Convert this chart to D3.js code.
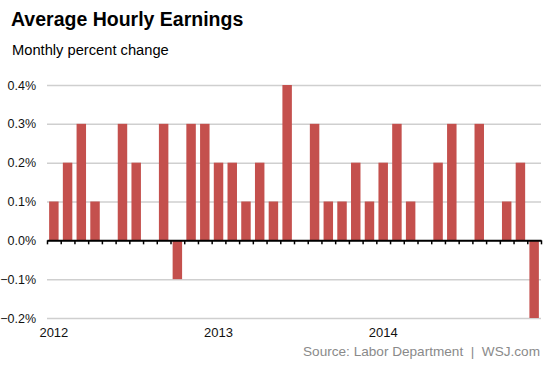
<!DOCTYPE html>
<html>
<head>
<meta charset="utf-8">
<script src="https://cdn.jsdelivr.net/npm/d3@7"></script>
<style>
  body { margin: 0; background: #fff; }
  text { font-family: "Liberation Sans", Arial, sans-serif; }
</style>
</head>
<body>
<div id="chart"></div>
<script>
// Data: monthly percent change, Jan 2012 - Dec 2014
var months = d3.range(36).map(function(i) { return i; });
var values2012 = [0.1, 0.2, 0.3, 0.1, 0, 0.3, 0.2, 0, 0.3, -0.1, 0.3, 0.3];
var values2013 = [0.2, 0.2, 0.1, 0.2, 0.1, 0.4, 0, 0.3, 0.1, 0.1, 0.2, 0.1];
var values2014 = [0.2, 0.3, 0.1, 0, 0.2, 0.3, 0, 0.3, 0, 0.1, 0.2, -0.2];
var values = values2012.concat(values2013, values2014);
var yearLabels = ['2012', '2013', '2014'];
var yTicks = [-0.2, -0.1, 0, 0.1, 0.2, 0.3, 0.4];

// Base chart space
var W = 553, H = 369;
var margin = {top: 85, right: 12, bottom: 51, left: 47},
    width = W - margin.left - margin.right,
    height = H - margin.top - margin.bottom;

var root = d3.select('#chart').append('svg')
    .attr('width', W)
    .attr('height', H);

// Title and subtitle
root.append('text')
    .attr('x', 11).attr('y', 26)
    .style('font-size', '19.5px').style('font-weight', 'bold')
    .text('Average Hourly Earnings');
root.append('text')
    .attr('x', 12).attr('y', 55)
    .style('font-size', '14.7px')
    .text('Monthly percent change');

var svg = root.append('g')
    .attr('transform', 'translate(' + margin.left + ',' + margin.top + ')');

// Scales
var xScale = d3.scaleBand()
    .domain(months)
    .range([0, width])
    .paddingInner(0.31)
    .paddingOuter(0.155);
var xEdge = d3.scaleLinear()
    .domain([0, 36])
    .range([0, width]);
var yScale = d3.scaleLinear()
    .domain([-0.2, 0.4])
    .range([height, 0]);

// Y axis with gridlines
var yAxis = svg.append('g')
    .call(d3.axisLeft(yScale)
        .tickValues(yTicks)
        .tickSizeInner(-width)
        .tickSizeOuter(0)
        .tickPadding(11)
        .tickFormat(function(d) { return d3.format('.1f')(d) + '%'; }));
yAxis.select('.domain').remove();
yAxis.selectAll('line')
    .attr('stroke', '#cfcfcf')
    .attr('stroke-width', 1.5);
yAxis.selectAll('text')
    .style('font-size', '12.5px')
    .attr('fill', '#111');

// Bars
svg.selectAll('.bar')
    .data(values)
    .enter()
    .append('rect')
    .attr('class', 'bar')
    .attr('x', function(d, i) { return xScale(i); })
    .attr('y', function(d) { return yScale(Math.max(0, d)); })
    .attr('width', xScale.bandwidth())
    .attr('height', function(d) { return Math.abs(yScale(d) - yScale(0)); })
    .style('fill', '#c4504d');

// Zero line with month ticks
var xAxis = svg.append('g')
    .attr('transform', 'translate(0,' + yScale(0) + ')')
    .call(d3.axisBottom(xEdge)
        .tickValues(d3.range(37))
        .tickSizeInner(4)
        .tickSizeOuter(0)
        .tickFormat(''));
xAxis.select('.domain')
    .attr('stroke', '#000')
    .attr('stroke-width', 2);
xAxis.selectAll('line')
    .attr('stroke', '#000')
    .attr('stroke-width', 1.5);

// Year labels under January bars
svg.selectAll('.year')
    .data(yearLabels)
    .enter()
    .append('text')
    .attr('class', 'year')
    .attr('x', function(d, i) { return xScale(i * 12) + xScale.bandwidth() / 2; })
    .attr('y', height + 19)
    .attr('text-anchor', 'middle')
    .style('font-size', '13px')
    .attr('fill', '#111')
    .text(function(d) { return d; });

// Source
root.append('text')
    .attr('x', 540).attr('y', 356)
    .attr('text-anchor', 'end')
    .style('font-size', '13.6px')
    .attr('fill', '#8a8a8a')
    .text('Source: Labor Department  |  WSJ.com')
    .attr('xml:space', 'preserve');
</script>
</body>
</html>
